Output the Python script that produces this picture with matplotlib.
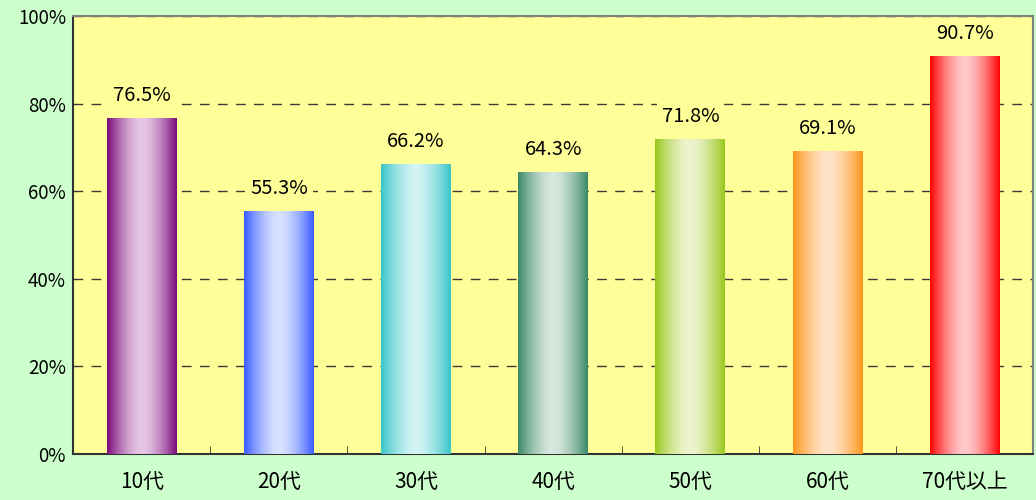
import numpy as np
import matplotlib.pyplot as plt
from matplotlib.colors import LinearSegmentedColormap

plt.rcParams['font.family'] = ['Noto Sans CJK JP', 'DejaVu Sans']

categories = ['10代', '20代', '30代', '40代', '50代', '60代', '70代以上']
values = [76.5, 55.3, 66.2, 64.3, 71.8, 69.1, 90.7]
edge_colors = ['#7B0A7B', '#3A5CFF', '#38C4C8', '#3A8A66', '#98C81C', '#FF9418', '#FF0000']
mid_colors = ['#E6C8E6', '#D8E2FF', '#D2F4F4', '#D8E8DE', '#EEF4D0', '#FFE4C8', '#FFCACA']
yticks = [0, 20, 40, 60, 80, 100]

fig = plt.figure(figsize=(10.36, 5.0), dpi=100, facecolor='#CCFFCC')
ax = fig.add_axes([0.0705, 0.092, 0.927, 0.876])
ax.set_facecolor('#FFFF99')

bar_w = 0.51
x = np.arange(len(categories))
grad = np.abs(np.linspace(-1, 1, 256)) ** 1.6
grad = grad.reshape(1, -1)
for xi, v, ec, mc in zip(x, values, edge_colors, mid_colors):
    cmap = LinearSegmentedColormap.from_list('g', [mc, ec])
    ax.imshow(grad, cmap=cmap, aspect='auto', interpolation='bicubic',
              extent=(xi - bar_w / 2, xi + bar_w / 2, 0, v), zorder=3)
    ax.annotate(f'{v:.1f}%', (xi, v), xytext=(0, 9), textcoords='offset points',
                ha='center', va='bottom', fontsize=14.5, zorder=5,
                bbox=dict(boxstyle='square,pad=0.25', fc='#FFFF99', ec='none'))

ax.set_xlim(-0.5, len(categories) - 0.5)
ax.set_ylim(0, 100)
ax.set_yticks(yticks)
ax.set_yticklabels([f'{t}%' for t in yticks], fontsize=13.5)
ax.set_xticks(x)
ax.set_xticklabels(categories, fontsize=15)
ax.tick_params(axis='x', length=0, pad=12)
ax.set_xticks(np.arange(0.5, len(categories) - 0.5, 1), minor=True)
ax.tick_params(axis='x', which='minor', direction='in', length=6, color='#333333')
ax.tick_params(axis='y', direction='out', length=0, pad=5)
ax.yaxis.grid(True, linestyle=(0, (7, 6)), color='#3A3A3A', linewidth=1)
ax.set_axisbelow(True)
for s in ['left', 'bottom']:
    ax.spines[s].set_color('#333333')
    ax.spines[s].set_linewidth(1.5)
for s in ['top', 'right']:
    ax.spines[s].set_color('#808080')
    ax.spines[s].set_linewidth(1.5)

plt.savefig('out.png', dpi=100, facecolor=fig.get_facecolor())
